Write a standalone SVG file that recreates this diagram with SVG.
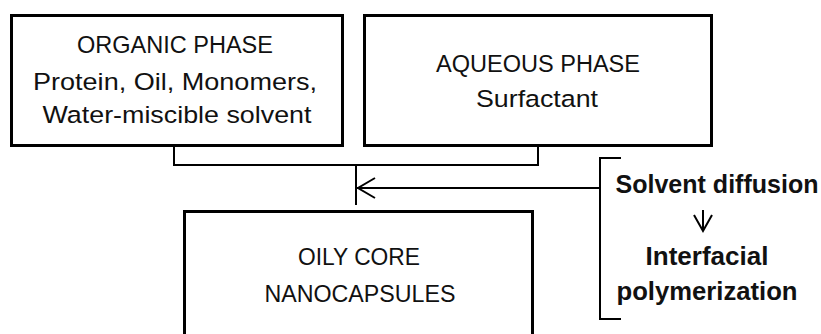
<svg xmlns="http://www.w3.org/2000/svg" width="821" height="334" viewBox="0 0 821 334">
<style>
.box{fill:#fff;stroke:#000;stroke-width:3}
.t{font-family:"Liberation Sans",Arial,sans-serif;font-size:24.5px;fill:#111;text-anchor:middle}
.b{font-family:"Liberation Sans",Arial,sans-serif;font-size:25px;font-weight:bold;fill:#111;text-anchor:middle}
.c{fill:none;stroke:#000;stroke-width:2}
</style>
<rect width="821" height="334" fill="#fff"/>
<g id="organic">
<rect class="box" x="11.5" y="15.5" width="331" height="130"/>
<text class="t" x="175" y="53" textLength="196" lengthAdjust="spacingAndGlyphs">ORGANIC PHASE</text>
<text class="t" x="175" y="90" textLength="284" lengthAdjust="spacingAndGlyphs">Protein, Oil, Monomers,</text>
<text class="t" x="177" y="123" textLength="269" lengthAdjust="spacingAndGlyphs">Water-miscible solvent</text>
</g>
<g id="aqueous">
<rect class="box" x="364.5" y="15.5" width="347" height="130"/>
<text class="t" x="538" y="72" textLength="204" lengthAdjust="spacingAndGlyphs">AQUEOUS PHASE</text>
<text class="t" x="537" y="107" textLength="122" lengthAdjust="spacingAndGlyphs">Surfactant</text>
</g>
<g id="nanocapsules">
<rect class="box" x="184.5" y="211.5" width="348" height="140"/>
<text class="t" x="359" y="265" textLength="122" lengthAdjust="spacingAndGlyphs">OILY CORE</text>
<text class="t" x="360" y="302" textLength="191" lengthAdjust="spacingAndGlyphs">NANOCAPSULES</text>
</g>
<g id="process">
<text class="b" x="717" y="193" textLength="203" lengthAdjust="spacingAndGlyphs">Solvent diffusion</text>
<text class="b" x="707" y="265" textLength="123" lengthAdjust="spacingAndGlyphs">Interfacial</text>
<text class="b" x="707" y="300" textLength="181" lengthAdjust="spacingAndGlyphs">polymerization</text>
</g>
<g id="connectors">
<polyline class="c" points="174,146 174,165 538,165 538,146"/>
<line class="c" x1="356" y1="165" x2="356" y2="205"/>
<line class="c" x1="357" y1="188" x2="600" y2="188"/>
<polyline class="c" points="375,178 358,188 375,198"/>
<polyline class="c" points="621,158 600,158 600,319 621,319"/>
<line class="c" x1="703" y1="210" x2="703" y2="231"/>
<polyline class="c" points="694,215 703,231 712,215"/>
</g>
</svg>
